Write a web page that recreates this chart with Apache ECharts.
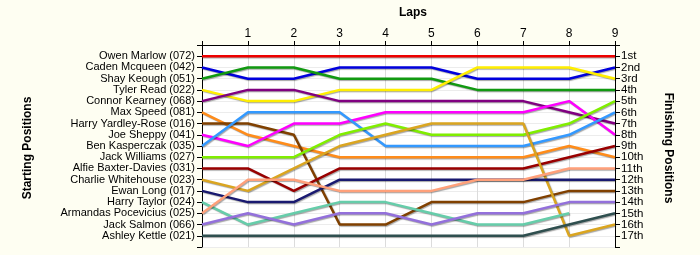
<!DOCTYPE html>
<html>
<head>
<meta charset="utf-8">
<script src="https://cdn.jsdelivr.net/npm/echarts@6/dist/echarts.min.js"></script>
<style>
html,body{margin:0;padding:0;background:#fefef2;}
#chart{width:700px;height:255px;}
</style>
</head>
<body>
<div id="chart"></div>
<script>
// Laps (x axis)
const laps = [0, 1, 2, 3, 4, 5, 6, 7, 8, 9];
// Drivers in starting order (left axis labels)
const drivers = [
  "Owen Marlow (072)", "Caden Mcqueen (042)", "Shay Keough (051)", "Tyler Read (022)",
  "Connor Kearney (068)", "Max Speed (081)", "Harry Yardley-Rose (016)", "Joe Sheppy (041)",
  "Ben Kasperczak (035)", "Jack Williams (027)", "Alfie Baxter-Davies (031)",
  "Charlie Whitehouse (023)", "Ewan Long (017)", "Harry Taylor (024)",
  "Armandas Pocevicius (025)", "Jack Salmon (066)", "Ashley Kettle (021)"
];
// Finishing position labels (right axis)
const finishLabels = ["1st","2nd","3rd","4th","5th","6th","7th","8th","9th","10th",
  "11th","12th","13th","14th","15th","16th","17th"];
// Position of each driver at each lap (null = no data)
const owenMarlow        = [1, 1, 1, 1, 1, 1, 1, 1, 1, 1];
const cadenMcqueen      = [2, 3, 3, 2, 2, 2, 3, 3, 3, 2];
const shayKeough        = [3, 2, 2, 3, 3, 3, 4, 4, 4, 4];
const tylerRead         = [4, 5, 5, 4, 4, 4, 2, 2, 2, 3];
const connorKearney     = [5, 4, 4, 5, 5, 5, 5, 5, 6, 7];
const maxSpeed          = [6, 8, 9, 10, 10, 10, 10, 10, 9, 10];
const harryYardleyRose  = [7, 7, 8, 16, 16, 14, 14, 14, 13, 13];
const joeSheppy         = [8, 9, 7, 7, 6, 6, 6, 6, 5, 8];
const benKasperczak     = [9, 6, 6, 6, 9, 9, 9, 9, 8, 6];
const jackWilliams      = [10, 10, 10, 8, 7, 8, 8, 8, 7, 5];
const alfieBaxterDavies = [11, 11, 13, 11, 11, 11, 11, 11, 10, 9];
const charlieWhitehouse = [12, 13, 11, 9, 8, 7, 7, 7, 17, 16];
const ewanLong          = [13, 14, 14, 12, 12, 12, 12, 12, 12, 12];
const harryTaylor       = [14, 16, 15, 14, 14, 15, 16, 16, 15, null];
const armandasPocevicius= [15, 12, 12, 13, 13, 13, 12, 12, 11, 11];
const jackSalmon        = [16, 15, 16, 15, 15, 16, 15, 15, 14, 14];
const ashleyKettle      = [17, 17, 17, 17, 17, 17, 17, 17, 16, 15];

const positions = [owenMarlow, cadenMcqueen, shayKeough, tylerRead, connorKearney, maxSpeed,
  harryYardleyRose, joeSheppy, benKasperczak, jackWilliams, alfieBaxterDavies,
  charlieWhitehouse, ewanLong, harryTaylor, armandasPocevicius, jackSalmon, ashleyKettle];

const colors = ['#ee0000','#0000dd','#119911','#ffee00','#800080','#ff8c1a','#804000',
  '#ff00ff','#3399ff','#80ee00','#990000','#daa520','#191970','#66cdaa','#ffa07a',
  '#9370db','#2f4f4f'];

const chart = echarts.init(document.getElementById('chart'), null, {renderer: 'canvas'});
const font = 'Liberation Sans, Arial, sans-serif';

const series = positions.map((arr, i) => ({
  type: 'line',
  name: drivers[i],
  data: laps.map((l, j) => arr[j] == null ? null : [l, arr[j]]).filter(d => d !== null),
  showSymbol: false,
  symbol: 'none',
  animation: false,
  lineStyle: {
    width: 2.5, color: colors[i],
    shadowColor: 'rgba(0,0,0,0.35)', shadowOffsetX: 1, shadowOffsetY: 1, shadowBlur: 1
  },
  itemStyle: {color: colors[i]},
  z: 2
}));

const option = {
  backgroundColor: '#fefef2',
  animation: false,
  grid: {left: 202, right: 85, top: 45, bottom: 8, show: true, backgroundColor: '#ffffff', borderWidth: 0},
  xAxis: {
    type: 'value', position: 'top', min: 0, max: 9, interval: 1,
    axisLine: {show: true, lineStyle: {color: '#000', width: 1}},
    axisTick: {show: true, length: 4, lineStyle: {color: '#000'}},
    axisLabel: {margin: 5, fontSize: 12, color: '#000', fontFamily: font,
      formatter: v => v === 0 ? '' : String(v)},
    splitLine: {show: true, lineStyle: {color: '#dcdcdc', width: 1}}
  },
  yAxis: [{
    type: 'value', position: 'left', min: 0, max: 18, interval: 1, inverse: true,
    axisLine: {show: true, lineStyle: {color: '#000'}},
    axisTick: {show: true, length: 5, lineStyle: {color: '#000'}},
    axisLabel: {margin: 7, fontSize: 11, color: '#000', fontFamily: font,
      formatter: v => (v >= 1 && v <= 17) ? drivers[v - 1] : ''},
    splitLine: {show: true, lineStyle: {color: '#ececec', width: 1}}
  }, {
    type: 'value', position: 'right', min: 0, max: 18, interval: 1, inverse: true,
    axisLine: {show: true, lineStyle: {color: '#000'}},
    axisTick: {show: true, length: 5, lineStyle: {color: '#000'}},
    axisLabel: {margin: 6, fontSize: 11.5, color: '#000', fontFamily: font,
      formatter: v => (v >= 1 && v <= 17) ? finishLabels[v - 1] : ''},
    splitLine: {show: false}
  }],
  graphic: [
    {type: 'text', x: 413, y: 13, style: {text: 'Laps', font: 'bold 12px ' + font, fill: '#000', textAlign: 'center', textVerticalAlign: 'middle'}},
    {type: 'text', x: 28, y: 148, rotation: Math.PI / 2, style: {text: 'Starting Positions', font: 'bold 12px ' + font, fill: '#000', textAlign: 'center', textVerticalAlign: 'middle'}},
    {type: 'text', x: 668, y: 148, rotation: -Math.PI / 2, style: {text: 'Finishing Positions', font: 'bold 12px ' + font, fill: '#000', textAlign: 'center', textVerticalAlign: 'middle'}}
  ],
  series: series
};
chart.setOption(option);
</script>
</body>
</html>
